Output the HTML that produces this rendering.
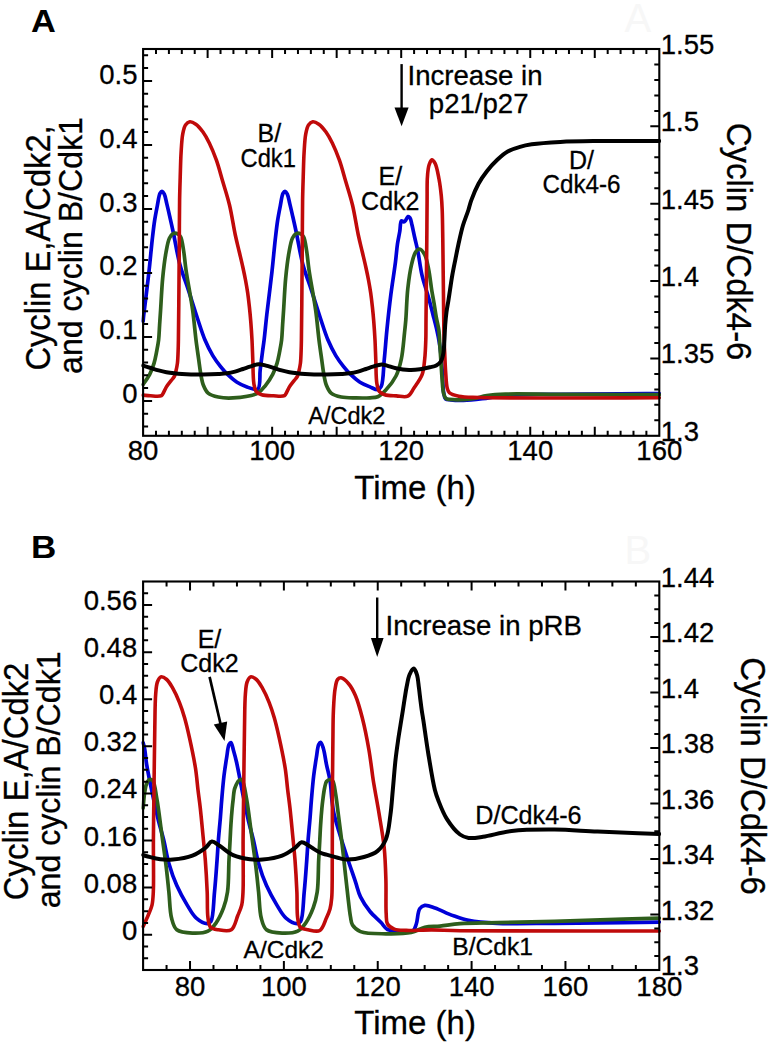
<!DOCTYPE html>
<html><head><meta charset="utf-8"><title>Figure</title>
<style>html,body{margin:0;padding:0;background:#fff;width:768px;height:1043px;overflow:hidden}svg{display:block}text{font-family:"Liberation Sans",sans-serif}</style>
</head><body>
<svg width="768" height="1043" viewBox="0 0 768 1043" font-family="Liberation Sans, sans-serif">
<defs><clipPath id="ca"><rect x="141.30" y="49.00" width="519.80" height="386.80"/></clipPath><clipPath id="cb"><rect x="141.30" y="581.50" width="519.80" height="388.50"/></clipPath></defs>
<rect width="768" height="1043" fill="#fff"/>
<g clip-path="url(#ca)" fill="none" stroke-linejoin="round" stroke-linecap="round">
<path d="M143.10,321.19 C143.39,318.43 143.44,317.75 143.80,314.60 C144.71,306.62 147.43,285.46 148.90,272.30 C150.18,260.81 151.14,249.40 152.20,240.00 C153.02,232.71 153.68,226.62 154.60,220.60 C155.41,215.32 156.36,210.52 157.30,205.80 C158.17,201.45 158.75,195.60 160.00,193.30 C160.59,192.22 161.33,191.27 162.00,191.30 C162.76,191.34 163.64,192.80 164.30,194.10 C165.38,196.22 165.87,200.02 166.70,203.40 C167.69,207.43 168.75,212.11 169.80,216.70 C170.92,221.62 171.91,225.96 173.20,232.00 C175.07,240.75 177.10,254.09 179.80,264.20 C182.28,273.46 185.60,281.51 188.50,290.40 C191.50,299.59 194.58,309.78 197.50,318.50 C200.06,326.16 202.25,333.49 205.00,340.00 C207.41,345.70 210.01,350.95 212.80,355.60 C215.25,359.69 217.98,363.31 220.60,366.60 C222.91,369.50 224.99,371.89 227.60,374.40 C230.41,377.11 233.68,380.09 237.00,382.20 C240.16,384.21 243.53,385.73 247.00,386.90 C250.47,388.07 255.49,390.85 257.80,389.20 C260.89,387.00 259.40,376.07 260.20,369.70 C260.97,363.58 261.79,357.05 262.50,351.70 C263.07,347.38 263.53,344.65 264.10,340.00 C264.93,333.16 265.72,324.14 266.80,314.60 C268.20,302.28 270.43,285.46 271.90,272.30 C273.18,260.81 274.14,249.40 275.20,240.00 C276.02,232.71 276.68,226.62 277.60,220.60 C278.41,215.32 279.36,210.52 280.30,205.80 C281.17,201.45 281.75,195.60 283.00,193.30 C283.59,192.22 284.33,191.27 285.00,191.30 C285.76,191.34 286.64,192.80 287.30,194.10 C288.38,196.22 288.87,200.02 289.70,203.40 C290.69,207.43 291.75,212.11 292.80,216.70 C293.92,221.62 294.91,225.96 296.20,232.00 C298.07,240.75 300.10,254.09 302.80,264.20 C305.28,273.46 308.60,281.51 311.50,290.40 C314.50,299.59 317.58,309.78 320.50,318.50 C323.06,326.16 325.25,333.49 328.00,340.00 C330.41,345.70 333.01,350.95 335.80,355.60 C338.25,359.69 340.98,363.31 343.60,366.60 C345.91,369.50 347.99,371.89 350.60,374.40 C353.41,377.11 356.68,380.09 360.00,382.20 C363.16,384.21 366.84,385.60 370.00,386.90 C372.73,388.03 375.82,390.11 377.80,389.70 C379.28,389.39 380.27,388.35 381.20,386.50 C383.45,382.00 383.36,368.38 384.30,359.10 C385.27,349.55 385.88,340.13 386.90,330.00 C388.02,318.89 389.35,306.52 390.80,295.10 C392.20,284.06 394.21,271.97 395.40,262.60 C396.30,255.47 396.67,249.38 397.50,243.75 C398.18,239.14 399.13,235.24 399.80,231.25 C400.41,227.62 400.16,221.49 401.40,220.80 C402.01,220.46 403.03,221.89 403.75,221.80 C404.46,221.71 405.08,220.98 405.70,220.30 C406.52,219.39 407.15,216.81 408.00,216.60 C408.62,216.45 409.44,217.06 410.00,217.80 C411.00,219.12 411.32,222.26 412.00,225.00 C412.88,228.58 413.75,233.26 414.70,237.50 C415.68,241.92 416.75,245.81 417.80,251.00 C419.21,257.96 420.25,267.67 422.10,275.60 C423.88,283.22 426.69,290.80 428.60,297.70 C430.26,303.72 431.59,309.14 433.00,314.70 C434.35,320.03 435.82,325.55 436.90,330.40 C437.83,334.55 438.53,338.01 439.20,342.00 C439.91,346.20 440.50,350.36 441.00,355.00 C441.57,360.30 441.88,366.18 442.30,372.10 C442.75,378.48 442.77,387.14 443.60,392.00 C444.09,394.89 444.14,397.52 445.50,398.80 C446.68,399.91 448.57,399.64 450.70,399.90 C453.99,400.31 458.76,400.51 463.40,400.40 C469.06,400.26 475.60,399.53 482.20,398.75 C489.59,397.88 496.15,396.08 505.60,395.30 C519.93,394.12 541.42,394.55 560.00,394.30 C579.51,394.04 602.11,393.92 620.00,393.80 C634.48,393.70 646.20,393.67 659.30,393.60" stroke="#0000D8" stroke-width="3.70"/>
<path d="M143.10,384.53 C144.05,383.07 147.88,377.94 149.70,374.40 C151.50,370.90 152.85,367.17 154.00,363.40 C155.16,359.60 155.83,355.61 156.60,351.70 C157.36,347.81 158.11,344.16 158.60,340.00 C159.15,335.32 159.27,330.00 159.60,325.00 C159.93,320.00 160.21,315.94 160.60,310.00 C161.17,301.33 161.73,288.00 162.70,278.00 C163.56,269.14 164.57,260.24 165.90,253.00 C166.94,247.33 167.79,241.39 169.50,238.00 C170.54,235.93 171.74,234.24 173.20,233.60 C174.46,233.05 176.27,233.25 177.50,233.80 C178.75,234.36 179.74,235.41 180.60,237.00 C182.09,239.76 182.66,245.18 183.50,250.00 C184.53,255.93 184.87,262.18 186.00,270.00 C187.62,281.16 190.97,298.05 192.70,310.50 C194.17,321.09 194.90,331.19 196.00,340.00 C196.90,347.18 197.86,353.53 198.70,359.50 C199.41,364.58 199.87,369.14 200.70,373.60 C201.46,377.70 202.02,381.89 203.40,385.30 C204.60,388.27 205.80,391.17 208.10,393.10 C210.61,395.20 214.48,396.18 218.25,397.00 C222.64,397.95 227.47,398.26 233.00,397.90 C240.22,397.43 252.14,396.11 257.80,393.10 C261.54,391.11 263.20,388.26 265.60,385.30 C268.20,382.09 270.77,378.14 272.70,374.40 C274.53,370.83 275.85,367.17 277.00,363.40 C278.16,359.60 278.83,355.61 279.60,351.70 C280.36,347.81 281.11,344.16 281.60,340.00 C282.15,335.32 282.27,330.00 282.60,325.00 C282.93,320.00 283.21,315.94 283.60,310.00 C284.17,301.33 284.73,288.00 285.70,278.00 C286.56,269.14 287.57,260.24 288.90,253.00 C289.94,247.33 290.79,241.39 292.50,238.00 C293.54,235.93 294.74,234.24 296.20,233.60 C297.46,233.05 299.27,233.25 300.50,233.80 C301.75,234.36 302.74,235.41 303.60,237.00 C305.09,239.76 305.66,245.18 306.50,250.00 C307.53,255.93 307.87,262.18 309.00,270.00 C310.62,281.16 313.97,298.05 315.70,310.50 C317.17,321.09 317.90,331.19 319.00,340.00 C319.90,347.18 320.86,353.53 321.70,359.50 C322.41,364.58 322.87,369.14 323.70,373.60 C324.46,377.70 325.02,381.89 326.40,385.30 C327.60,388.27 328.80,391.17 331.10,393.10 C333.61,395.20 337.48,396.18 341.25,397.00 C345.64,397.95 351.15,397.77 356.00,397.90 C360.73,398.03 366.02,398.07 370.00,397.80 C372.98,397.60 375.35,397.87 377.80,396.80 C380.59,395.58 382.99,393.09 385.60,390.30 C389.05,386.62 393.38,381.20 396.00,376.00 C398.62,370.80 399.94,365.41 401.30,359.10 C402.96,351.41 403.70,340.20 404.50,333.00 C405.07,327.92 405.37,325.28 405.80,320.00 C406.47,311.81 406.71,298.42 407.80,288.60 C408.77,279.85 410.08,270.58 411.70,263.90 C412.84,259.19 413.84,254.62 415.60,252.10 C416.72,250.50 418.16,248.89 419.50,249.00 C421.17,249.13 423.30,252.15 424.70,254.70 C426.65,258.24 427.50,263.82 428.60,269.10 C429.91,275.39 430.70,283.86 431.70,290.00 C432.49,294.85 433.25,298.56 434.00,303.00 C434.79,307.65 435.46,312.65 436.30,317.30 C437.10,321.77 438.32,325.89 438.90,330.40 C439.51,335.11 439.48,340.14 439.80,345.00 C440.12,349.84 440.45,354.31 440.80,359.50 C441.21,365.52 441.59,372.98 442.10,379.00 C442.54,384.20 442.61,389.98 443.60,393.50 C444.21,395.67 444.85,397.55 446.00,398.50 C446.91,399.26 447.75,399.20 449.40,399.40 C453.51,399.90 464.65,399.78 471.30,399.00 C476.98,398.34 481.44,396.41 486.90,395.60 C492.82,394.72 497.73,394.39 505.60,394.10 C519.00,393.60 539.16,394.31 560.00,394.40 C588.16,394.52 626.20,394.60 659.30,394.70" stroke="#2E5E1C" stroke-width="3.70"/>
<path d="M143.10,395.11 C145.23,395.31 147.71,395.70 150.40,395.80 C153.71,395.93 159.38,396.75 161.50,395.60 C162.73,394.93 162.89,393.71 163.60,392.50 C164.52,390.93 165.25,388.77 166.40,386.90 C167.69,384.80 169.67,382.44 171.10,380.60 C172.24,379.13 173.46,378.20 174.25,376.70 C175.09,375.11 175.41,373.25 175.90,371.25 C176.48,368.89 177.04,366.29 177.40,363.40 C177.84,359.90 177.93,355.60 178.10,351.70 C178.27,347.80 178.30,345.41 178.40,340.00 C178.62,327.75 178.84,297.98 179.00,280.00 C179.13,265.32 179.20,253.33 179.30,240.00 C179.40,226.67 179.40,211.40 179.60,200.00 C179.75,191.49 179.96,185.37 180.20,177.70 C180.46,169.51 180.61,160.10 181.10,152.30 C181.52,145.61 181.81,138.69 182.80,133.70 C183.49,130.21 184.05,127.05 185.50,125.00 C186.61,123.43 188.18,122.01 189.80,121.80 C191.58,121.57 193.87,122.87 195.80,124.20 C198.24,125.88 200.65,128.88 202.80,131.80 C205.23,135.10 207.30,138.94 209.40,143.20 C211.88,148.23 214.27,154.19 216.40,160.20 C218.71,166.73 220.50,173.81 222.60,181.00 C224.86,188.71 227.46,196.51 229.50,205.00 C231.75,214.40 233.46,226.43 235.30,235.00 C236.69,241.48 238.01,246.51 239.30,252.00 C240.51,257.16 241.74,262.17 242.80,267.00 C243.79,271.48 244.68,275.66 245.50,280.00 C246.31,284.33 247.06,288.58 247.70,293.00 C248.36,297.57 248.89,302.25 249.40,307.00 C249.93,311.91 250.38,316.77 250.80,322.00 C251.26,327.72 251.67,333.84 252.00,340.00 C252.35,346.49 252.50,353.05 252.80,360.00 C253.13,367.58 252.92,378.01 253.90,383.75 C254.47,387.12 254.78,389.75 256.25,391.60 C257.54,393.22 259.45,393.99 261.70,394.70 C264.78,395.67 269.55,395.65 273.40,395.80 C277.14,395.94 282.38,396.75 284.50,395.60 C285.73,394.93 285.89,393.71 286.60,392.50 C287.52,390.93 288.25,388.77 289.40,386.90 C290.69,384.80 292.67,382.44 294.10,380.60 C295.24,379.13 296.46,378.20 297.25,376.70 C298.09,375.11 298.41,373.25 298.90,371.25 C299.48,368.89 300.04,366.29 300.40,363.40 C300.84,359.90 300.93,355.60 301.10,351.70 C301.27,347.80 301.30,345.41 301.40,340.00 C301.62,327.75 301.84,297.98 302.00,280.00 C302.13,265.32 302.20,253.33 302.30,240.00 C302.40,226.67 302.40,211.40 302.60,200.00 C302.75,191.49 302.96,185.37 303.20,177.70 C303.46,169.51 303.61,160.10 304.10,152.30 C304.52,145.61 304.81,138.69 305.80,133.70 C306.49,130.21 307.05,127.05 308.50,125.00 C309.61,123.43 311.18,122.01 312.80,121.80 C314.58,121.57 316.87,122.87 318.80,124.20 C321.24,125.88 323.65,128.88 325.80,131.80 C328.23,135.10 330.30,138.94 332.40,143.20 C334.88,148.23 337.27,154.19 339.40,160.20 C341.71,166.73 343.50,173.81 345.60,181.00 C347.86,188.71 350.46,196.51 352.50,205.00 C354.75,214.40 356.46,226.43 358.30,235.00 C359.69,241.48 361.01,246.51 362.30,252.00 C363.51,257.16 364.74,262.17 365.80,267.00 C366.79,271.48 367.68,275.66 368.50,280.00 C369.31,284.33 370.06,288.58 370.70,293.00 C371.36,297.57 371.89,302.25 372.40,307.00 C372.93,311.91 373.38,316.77 373.80,322.00 C374.26,327.72 374.67,333.84 375.00,340.00 C375.35,346.49 375.50,353.05 375.80,360.00 C376.13,367.58 375.84,378.02 376.90,383.75 C377.53,387.13 378.01,389.74 379.50,391.60 C380.78,393.19 382.52,393.98 384.70,394.70 C387.74,395.71 392.52,395.65 396.40,395.90 C400.22,396.15 404.83,397.63 407.80,396.20 C410.62,394.84 411.88,391.12 414.00,388.00 C416.61,384.16 420.32,379.50 422.10,374.70 C423.90,369.87 424.09,364.58 424.70,359.10 C425.37,353.07 425.58,346.44 425.80,340.00 C426.02,333.41 425.92,327.81 426.00,320.00 C426.11,308.95 426.27,293.33 426.40,280.00 C426.53,266.67 426.68,253.33 426.80,240.00 C426.92,226.67 427.00,211.20 427.10,200.00 C427.17,191.88 427.02,184.71 427.30,179.00 C427.50,175.05 427.78,171.63 428.20,169.00 C428.48,167.26 428.66,166.14 429.20,164.70 C429.81,163.08 430.78,159.93 431.80,159.80 C432.76,159.68 434.14,161.61 435.10,163.40 C436.85,166.65 437.97,173.66 439.00,179.00 C440.06,184.52 440.76,190.60 441.30,196.00 C441.79,200.88 441.97,204.45 442.20,210.00 C442.54,218.11 442.62,228.73 442.80,240.00 C443.03,254.55 443.18,273.33 443.40,290.00 C443.62,306.67 443.76,328.74 444.10,340.00 C444.27,345.74 444.47,348.22 444.70,353.00 C444.98,358.87 445.24,366.47 445.70,372.60 C446.10,378.05 446.22,384.38 447.20,388.00 C447.77,390.12 448.02,391.52 449.40,392.80 C451.30,394.57 455.00,395.50 458.80,396.30 C464.19,397.44 470.01,397.21 479.00,397.50 C496.98,398.09 531.63,397.94 560.00,398.00 C591.42,398.07 626.20,397.87 659.30,397.80" stroke="#C00A0A" stroke-width="3.60"/>
<path d="M143.10,365.63 C145.67,366.42 148.23,367.21 150.80,368.00 C153.39,368.80 155.99,369.70 158.60,370.40 C161.19,371.10 163.79,371.72 166.40,372.20 C169.00,372.68 171.63,373.00 174.25,373.30 C176.86,373.60 179.40,373.82 182.10,374.00 C184.97,374.19 187.81,374.32 191.00,374.40 C194.70,374.50 198.76,374.55 203.00,374.50 C207.78,374.44 213.87,374.25 218.25,374.00 C221.57,373.81 224.16,373.71 227.00,373.30 C229.74,372.90 232.35,372.31 235.00,371.60 C237.69,370.88 240.43,369.86 243.00,369.00 C245.41,368.19 247.53,367.37 250.00,366.60 C252.71,365.76 255.83,364.32 258.60,364.20 C261.15,364.09 263.52,364.99 266.00,365.60 C268.58,366.24 271.20,367.20 273.80,368.00 C276.40,368.80 278.99,369.70 281.60,370.40 C284.19,371.10 286.79,371.72 289.40,372.20 C292.00,372.68 294.63,373.00 297.25,373.30 C299.86,373.60 302.40,373.82 305.10,374.00 C307.97,374.19 310.81,374.32 314.00,374.40 C317.70,374.50 321.76,374.55 326.00,374.50 C330.78,374.44 336.87,374.25 341.25,374.00 C344.57,373.81 347.16,373.71 350.00,373.30 C352.74,372.90 355.35,372.31 358.00,371.60 C360.69,370.88 363.43,369.86 366.00,369.00 C368.41,368.19 370.53,367.34 373.00,366.60 C375.70,365.79 379.06,364.44 381.60,364.40 C383.60,364.37 384.98,365.08 387.00,365.60 C389.63,366.27 392.69,367.51 396.00,368.20 C399.93,369.02 404.93,369.75 409.10,369.90 C412.89,370.04 416.48,369.75 420.00,369.30 C423.37,368.87 426.88,368.02 429.80,367.30 C432.20,366.70 434.43,366.42 436.30,365.40 C438.06,364.44 439.66,363.26 440.80,361.50 C442.20,359.35 442.80,356.17 443.40,353.00 C444.13,349.16 444.11,344.49 444.40,340.00 C444.71,335.18 444.83,329.82 445.20,325.00 C445.54,320.51 445.94,316.24 446.50,312.00 C447.04,307.91 447.90,303.82 448.50,300.00 C449.05,296.52 449.44,293.66 450.00,290.00 C450.68,285.55 451.43,280.17 452.30,275.20 C453.19,270.11 454.28,264.92 455.30,259.80 C456.32,254.69 457.21,249.88 458.40,244.50 C459.74,238.45 461.23,231.29 463.00,225.30 C464.61,219.87 466.93,214.52 468.40,210.00 C469.55,206.45 469.94,203.99 471.25,200.40 C473.01,195.56 475.74,188.79 478.50,183.75 C481.01,179.16 483.79,175.22 486.90,171.25 C490.05,167.23 493.69,163.18 497.30,159.80 C500.65,156.66 503.91,153.67 507.70,151.50 C511.48,149.34 515.90,148.01 520.00,146.80 C523.90,145.64 526.92,145.01 531.70,144.30 C539.11,143.20 550.13,142.45 560.30,141.90 C571.88,141.27 583.53,141.18 597.50,141.00 C615.50,140.77 638.70,140.93 659.30,140.90" stroke="#000" stroke-width="4.00"/>
</g>
<g clip-path="url(#cb)" fill="none" stroke-linejoin="round" stroke-linecap="round">
<path d="M143.10,742.80 C143.60,744.70 144.13,746.08 144.60,748.50 C145.41,752.62 145.79,759.21 146.80,765.40 C148.05,773.03 149.94,781.97 151.80,790.80 C153.84,800.49 156.40,812.30 158.60,821.20 C160.34,828.24 162.07,833.37 163.70,840.00 C165.51,847.35 166.70,855.77 168.90,863.40 C171.08,870.97 173.69,878.55 176.80,885.60 C179.82,892.43 183.67,899.35 187.20,905.10 C190.19,909.97 192.66,914.96 196.30,918.10 C199.50,920.86 204.65,923.69 207.30,923.60 C208.84,923.55 209.90,923.01 210.90,921.50 C213.55,917.47 213.48,902.16 214.50,892.10 C215.57,881.52 216.41,868.98 217.10,859.50 C217.64,852.17 217.88,846.74 218.40,840.00 C218.96,832.72 219.82,824.36 220.40,817.30 C220.90,811.14 221.17,806.26 221.70,800.00 C222.33,792.56 223.09,783.14 224.00,775.60 C224.79,769.05 225.79,762.85 226.70,757.30 C227.46,752.65 227.82,746.84 229.00,744.50 C229.54,743.42 230.32,742.37 230.90,742.50 C231.92,742.73 232.64,747.58 233.50,750.50 C234.52,753.97 235.39,757.13 236.50,762.00 C238.40,770.30 241.06,785.45 243.20,795.90 C245.04,804.90 246.68,813.23 248.50,821.00 C250.09,827.79 251.80,833.32 253.40,840.00 C255.17,847.38 256.40,855.77 258.60,863.40 C260.78,870.97 263.39,878.55 266.50,885.60 C269.52,892.43 273.37,899.35 276.90,905.10 C279.89,909.97 282.36,914.96 286.00,918.10 C289.20,920.86 294.35,923.69 297.00,923.60 C298.54,923.55 299.60,923.01 300.60,921.50 C303.25,917.47 303.18,902.16 304.20,892.10 C305.27,881.52 306.11,868.98 306.80,859.50 C307.34,852.17 307.58,846.74 308.10,840.00 C308.66,832.72 309.52,824.36 310.10,817.30 C310.60,811.14 310.87,806.26 311.40,800.00 C312.03,792.56 312.79,783.14 313.70,775.60 C314.49,769.05 315.49,762.85 316.40,757.30 C317.16,752.65 317.54,746.92 318.70,744.50 C319.25,743.35 319.98,742.21 320.60,742.30 C321.53,742.43 322.49,745.68 323.30,748.20 C324.60,752.24 325.37,759.14 326.50,764.60 C327.63,770.07 329.21,775.30 330.10,781.00 C331.05,787.07 331.21,794.30 331.90,800.00 C332.47,804.69 332.83,808.19 333.80,812.80 C334.97,818.37 336.87,824.47 338.80,831.00 C341.07,838.69 343.96,847.63 346.70,856.00 C349.49,864.50 352.89,874.16 355.40,881.60 C357.34,887.35 358.14,892.00 360.50,896.90 C362.95,901.99 366.48,907.16 370.00,911.50 C373.29,915.56 377.65,919.04 380.80,922.30 C383.33,924.92 384.58,928.05 387.50,929.50 C390.80,931.14 395.79,930.58 400.00,930.80 C404.26,931.02 410.20,932.47 412.90,930.80 C414.97,929.52 415.31,926.79 416.30,924.00 C417.72,920.01 417.60,911.86 419.70,908.80 C421.02,906.88 422.71,905.77 424.80,905.40 C427.53,904.92 431.42,906.68 435.00,907.90 C439.25,909.35 444.92,912.43 448.50,913.90 C450.82,914.85 451.92,915.29 454.30,916.10 C457.99,917.35 462.95,919.28 468.60,920.40 C476.46,921.96 486.08,922.73 497.30,923.30 C513.11,924.10 532.64,923.43 554.60,923.30 C584.28,923.13 624.40,922.50 659.30,922.10" stroke="#0000D8" stroke-width="3.70"/>
<path d="M143.10,808.00 C143.63,802.77 144.00,796.69 144.70,792.30 C145.21,789.08 145.53,786.26 146.50,784.00 C147.27,782.21 148.31,780.01 149.50,779.60 C150.45,779.27 151.78,779.60 152.70,780.60 C154.91,782.99 155.60,792.10 156.90,799.20 C158.61,808.56 159.98,820.97 161.50,832.00 C163.05,843.23 164.82,855.41 166.10,866.00 C167.22,875.27 167.99,883.41 168.90,892.10 C169.81,900.77 169.72,911.26 171.55,918.10 C172.83,922.89 173.67,927.28 176.80,929.80 C180.29,932.61 187.18,932.89 192.40,933.10 C197.58,933.31 203.94,933.09 208.00,931.10 C211.40,929.43 213.44,926.58 215.80,923.30 C218.77,919.18 221.64,913.01 223.60,907.70 C225.49,902.60 226.59,898.28 227.50,892.10 C228.78,883.36 228.52,869.44 229.00,860.00 C229.38,852.55 229.76,846.19 230.10,840.00 C230.39,834.64 230.56,830.14 230.90,825.00 C231.26,819.56 231.77,812.80 232.20,808.20 C232.50,804.98 232.71,802.99 233.10,800.00 C233.57,796.38 233.58,791.53 234.90,788.00 C236.10,784.78 238.74,779.92 240.30,779.50 C241.06,779.30 241.75,779.76 242.40,780.60 C244.23,782.99 245.30,792.10 246.60,799.20 C248.31,808.56 249.68,820.97 251.20,832.00 C252.75,843.23 254.52,855.41 255.80,866.00 C256.92,875.27 257.69,883.41 258.60,892.10 C259.51,900.77 259.42,911.26 261.25,918.10 C262.53,922.89 263.37,927.28 266.50,929.80 C269.99,932.61 276.88,932.89 282.10,933.10 C287.28,933.31 293.64,933.09 297.70,931.10 C301.10,929.43 303.14,926.58 305.50,923.30 C308.47,919.18 311.34,913.01 313.30,907.70 C315.19,902.60 316.29,898.28 317.20,892.10 C318.48,883.36 318.22,869.44 318.70,860.00 C319.08,852.55 319.46,846.19 319.80,840.00 C320.09,834.64 320.26,830.14 320.60,825.00 C320.96,819.56 321.47,812.80 321.90,808.20 C322.20,804.98 322.41,802.99 322.80,800.00 C323.27,796.38 323.86,791.37 324.60,788.00 C325.15,785.48 325.37,782.93 326.50,781.50 C327.37,780.40 328.89,779.52 330.00,779.50 C330.98,779.49 332.02,779.97 332.80,781.00 C334.38,783.09 334.76,788.98 335.60,793.80 C336.68,799.96 337.41,807.32 338.40,815.00 C339.58,824.13 341.02,835.00 342.20,845.00 C343.38,855.00 344.44,865.46 345.50,875.00 C346.47,883.71 347.39,892.47 348.30,900.00 C349.05,906.21 349.63,912.41 350.50,917.00 C351.10,920.18 351.03,922.67 352.50,925.00 C354.15,927.62 356.77,930.07 360.50,931.60 C366.35,933.99 377.44,933.65 385.90,933.80 C394.34,933.95 404.16,933.96 411.20,932.50 C416.53,931.39 420.06,928.47 424.80,927.40 C429.65,926.30 434.59,926.66 440.00,926.10 C446.22,925.46 452.29,924.26 460.00,923.70 C470.50,922.93 483.54,923.05 497.30,922.70 C514.36,922.26 532.64,921.90 554.60,921.30 C584.28,920.48 624.40,919.17 659.30,918.10" stroke="#2E5E1C" stroke-width="3.70"/>
<path d="M143.10,926.50 C144.28,923.90 146.59,919.14 148.10,915.50 C149.55,912.01 151.13,908.82 152.00,905.10 C152.94,901.07 153.01,897.89 153.30,892.10 C153.89,880.54 153.28,857.19 153.40,840.00 C153.52,823.16 153.78,807.58 154.00,790.00 C154.24,770.37 154.45,745.32 154.80,727.70 C155.06,714.72 154.99,702.28 155.70,693.90 C156.12,688.91 156.24,685.04 157.40,682.00 C158.23,679.83 159.28,677.34 160.80,676.90 C162.36,676.45 164.91,678.04 166.70,679.50 C168.95,681.35 170.70,684.63 172.60,687.90 C174.97,691.97 177.42,697.38 179.40,702.30 C181.39,707.24 182.91,712.03 184.50,717.50 C186.32,723.77 187.84,730.40 189.50,737.90 C191.51,747.01 194.05,758.99 195.50,768.30 C196.72,776.12 197.16,783.09 198.00,790.00 C198.77,796.34 199.55,801.51 200.30,808.20 C201.22,816.40 202.14,826.73 203.00,835.60 C203.81,843.97 204.63,851.30 205.30,860.00 C206.06,869.96 206.74,881.96 207.20,892.10 C207.61,901.22 207.00,911.70 208.00,918.10 C208.60,921.96 208.74,925.26 210.60,927.20 C212.34,929.01 215.43,929.32 218.40,929.80 C222.12,930.40 228.11,931.85 231.30,929.80 C234.82,927.53 235.97,919.92 237.80,915.50 C239.34,911.79 240.83,908.82 241.70,905.10 C242.64,901.07 242.71,897.89 243.00,892.10 C243.59,880.54 242.98,857.19 243.10,840.00 C243.22,823.16 243.48,807.58 243.70,790.00 C243.94,770.37 244.15,745.32 244.50,727.70 C244.76,714.72 244.69,702.28 245.40,693.90 C245.82,688.91 245.94,685.04 247.10,682.00 C247.93,679.83 248.98,677.34 250.50,676.90 C252.06,676.45 254.61,678.04 256.40,679.50 C258.65,681.35 260.40,684.63 262.30,687.90 C264.67,691.97 267.12,697.38 269.10,702.30 C271.09,707.24 272.61,712.03 274.20,717.50 C276.02,723.77 277.54,730.40 279.20,737.90 C281.21,747.01 283.75,758.99 285.20,768.30 C286.42,776.12 286.86,783.09 287.70,790.00 C288.47,796.34 289.25,801.51 290.00,808.20 C290.92,816.40 291.84,826.73 292.70,835.60 C293.51,843.97 294.33,851.30 295.00,860.00 C295.76,869.96 296.44,881.96 296.90,892.10 C297.31,901.22 296.70,911.70 297.70,918.10 C298.30,921.96 298.44,925.26 300.30,927.20 C302.04,929.01 305.20,929.24 308.10,929.80 C311.57,930.47 316.80,932.18 319.80,930.50 C323.08,928.66 324.62,921.96 326.40,918.10 C327.89,914.88 329.12,912.23 330.00,909.00 C330.93,905.56 331.33,902.13 331.70,898.00 C332.18,892.75 332.08,888.29 332.20,880.00 C332.48,861.46 332.24,815.62 332.40,790.00 C332.52,770.90 332.70,754.44 332.90,740.00 C333.05,728.97 332.97,719.84 333.40,710.80 C333.77,702.94 334.11,694.54 335.10,688.80 C335.75,685.01 336.17,681.25 337.60,679.50 C338.50,678.40 339.69,677.67 341.00,677.80 C343.08,678.01 346.35,681.12 348.60,683.70 C351.27,686.77 353.36,690.82 355.40,695.50 C358.05,701.58 360.11,709.42 362.20,717.50 C364.69,727.16 367.05,739.10 368.90,749.70 C370.69,759.92 372.05,772.64 373.20,780.00 C373.86,784.24 374.20,785.95 374.90,790.00 C375.98,796.26 377.69,805.24 379.10,813.90 C380.78,824.18 383.07,836.53 384.20,847.70 C385.30,858.56 385.57,869.10 385.90,880.00 C386.24,891.16 385.65,905.93 386.20,913.90 C386.50,918.27 386.00,921.42 387.50,924.00 C388.87,926.36 391.54,928.01 394.30,929.10 C397.57,930.39 401.48,930.19 406.20,930.40 C413.07,930.71 422.90,929.85 431.60,929.90 C440.80,929.96 446.25,930.58 460.00,930.80 C496.41,931.40 592.87,930.93 659.30,931.00" stroke="#C00A0A" stroke-width="3.60"/>
<path d="M143.10,854.89 C143.27,855.01 143.21,855.01 143.40,855.10 C144.72,855.69 155.04,858.61 160.30,859.30 C164.77,859.88 168.27,859.92 172.90,859.50 C178.72,858.97 186.72,857.80 192.40,855.60 C197.36,853.68 201.92,850.45 205.40,847.80 C208.08,845.76 209.52,841.91 211.90,841.60 C214.26,841.29 216.73,844.03 219.60,845.80 C223.53,848.22 228.12,852.86 233.10,855.10 C238.23,857.41 244.74,858.61 250.00,859.30 C254.47,859.88 257.97,859.92 262.60,859.50 C268.42,858.97 276.42,857.80 282.10,855.60 C287.06,853.68 291.59,850.31 295.10,847.80 C297.73,845.92 299.33,842.62 301.60,842.30 C303.68,842.00 306.15,844.13 308.10,845.20 C309.84,846.15 310.99,847.19 312.80,848.30 C315.16,849.74 318.58,851.90 321.10,853.00 C323.04,853.85 324.28,854.05 326.50,854.70 C330.00,855.73 336.33,857.56 340.10,858.40 C342.74,858.99 344.12,859.57 346.90,859.60 C351.29,859.65 358.65,858.52 363.90,857.00 C368.76,855.59 373.73,854.08 377.40,851.10 C381.06,848.14 383.80,844.15 385.90,839.20 C388.63,832.78 389.25,823.16 390.40,815.00 C391.56,806.76 391.99,798.71 392.80,790.00 C393.69,780.46 394.52,768.85 395.50,760.00 C396.28,752.94 397.13,747.06 398.00,741.00 C398.80,735.43 399.68,730.17 400.50,725.00 C401.28,720.12 402.09,715.32 402.80,710.80 C403.45,706.69 403.97,702.95 404.60,699.00 C405.24,695.01 405.78,691.03 406.60,687.00 C407.44,682.86 408.11,677.78 409.60,674.50 C410.72,672.04 412.56,668.52 413.80,668.60 C414.98,668.68 416.10,672.06 416.90,674.50 C418.03,677.93 418.31,683.29 418.90,687.60 C419.47,691.79 419.91,696.09 420.40,700.00 C420.84,703.51 421.22,706.67 421.70,710.00 C422.18,713.34 422.64,715.70 423.30,720.00 C424.51,727.82 426.34,741.78 428.20,753.10 C430.17,765.08 432.75,781.55 434.90,790.00 C436.06,794.55 436.77,796.41 438.30,800.30 C440.39,805.64 443.18,813.20 446.80,818.90 C450.42,824.60 455.68,831.40 460.00,834.50 C462.90,836.58 465.30,837.40 468.60,837.90 C472.72,838.52 477.41,837.58 483.00,836.80 C490.94,835.70 501.04,832.23 511.60,831.00 C524.42,829.50 540.28,829.50 554.60,829.60 C568.91,829.70 581.90,830.95 597.50,831.60 C616.22,832.38 638.70,833.13 659.30,833.90" stroke="#000" stroke-width="4.00"/>
</g>
<rect x="143.10" y="49.00" width="516.20" height="386.80" fill="none" stroke="#000" stroke-width="2.1"/>
<path d="M156.00,49.00v5.00M156.00,435.80v-5.00M168.91,49.00v5.00M168.91,435.80v-5.00M181.81,49.00v5.00M181.81,435.80v-5.00M194.72,49.00v5.00M194.72,435.80v-5.00M207.62,49.00v9.00M207.62,435.80v-9.00M220.53,49.00v5.00M220.53,435.80v-5.00M233.43,49.00v5.00M233.43,435.80v-5.00M246.34,49.00v5.00M246.34,435.80v-5.00M259.25,49.00v5.00M259.25,435.80v-5.00M272.15,49.00v9.00M272.15,435.80v-9.00M285.05,49.00v5.00M285.05,435.80v-5.00M297.96,49.00v5.00M297.96,435.80v-5.00M310.86,49.00v5.00M310.86,435.80v-5.00M323.77,49.00v5.00M323.77,435.80v-5.00M336.67,49.00v9.00M336.67,435.80v-9.00M349.58,49.00v5.00M349.58,435.80v-5.00M362.48,49.00v5.00M362.48,435.80v-5.00M375.39,49.00v5.00M375.39,435.80v-5.00M388.29,49.00v5.00M388.29,435.80v-5.00M401.20,49.00v9.00M401.20,435.80v-9.00M414.10,49.00v5.00M414.10,435.80v-5.00M427.01,49.00v5.00M427.01,435.80v-5.00M439.91,49.00v5.00M439.91,435.80v-5.00M452.82,49.00v5.00M452.82,435.80v-5.00M465.72,49.00v9.00M465.72,435.80v-9.00M478.63,49.00v5.00M478.63,435.80v-5.00M491.53,49.00v5.00M491.53,435.80v-5.00M504.44,49.00v5.00M504.44,435.80v-5.00M517.34,49.00v5.00M517.34,435.80v-5.00M530.25,49.00v9.00M530.25,435.80v-9.00M543.15,49.00v5.00M543.15,435.80v-5.00M556.06,49.00v5.00M556.06,435.80v-5.00M568.96,49.00v5.00M568.96,435.80v-5.00M581.87,49.00v5.00M581.87,435.80v-5.00M594.77,49.00v9.00M594.77,435.80v-9.00M607.68,49.00v5.00M607.68,435.80v-5.00M620.58,49.00v5.00M620.58,435.80v-5.00M633.49,49.00v5.00M633.49,435.80v-5.00M646.39,49.00v5.00M646.39,435.80v-5.00M143.10,426.50h5.00M143.10,413.70h5.00M143.10,400.90h9.00M143.10,388.10h5.00M143.10,375.30h5.00M143.10,362.50h5.00M143.10,349.70h5.00M143.10,336.90h9.00M143.10,324.10h5.00M143.10,311.30h5.00M143.10,298.50h5.00M143.10,285.70h5.00M143.10,272.90h9.00M143.10,260.10h5.00M143.10,247.30h5.00M143.10,234.50h5.00M143.10,221.70h5.00M143.10,208.90h9.00M143.10,196.10h5.00M143.10,183.30h5.00M143.10,170.50h5.00M143.10,157.70h5.00M143.10,144.90h9.00M143.10,132.10h5.00M143.10,119.30h5.00M143.10,106.50h5.00M143.10,93.70h5.00M143.10,80.90h9.00M143.10,68.10h5.00M143.10,55.30h5.00M659.30,420.33h-5.00M659.30,404.86h-5.00M659.30,389.38h-5.00M659.30,373.91h-5.00M659.30,358.44h-9.00M659.30,342.97h-5.00M659.30,327.50h-5.00M659.30,312.02h-5.00M659.30,296.55h-5.00M659.30,281.08h-9.00M659.30,265.61h-5.00M659.30,250.14h-5.00M659.30,234.66h-5.00M659.30,219.19h-5.00M659.30,203.72h-9.00M659.30,188.25h-5.00M659.30,172.78h-5.00M659.30,157.30h-5.00M659.30,141.83h-5.00M659.30,126.36h-9.00M659.30,110.89h-5.00M659.30,95.42h-5.00M659.30,79.94h-5.00M659.30,64.47h-5.00" stroke="#000" stroke-width="2" fill="none"/>
<rect x="143.10" y="581.50" width="516.20" height="388.50" fill="none" stroke="#000" stroke-width="2.1"/>
<path d="M166.56,581.50v5.00M166.56,970.00v-5.00M190.03,581.50v9.00M190.03,970.00v-9.00M213.49,581.50v5.00M213.49,970.00v-5.00M236.95,581.50v5.00M236.95,970.00v-5.00M260.42,581.50v5.00M260.42,970.00v-5.00M283.88,581.50v9.00M283.88,970.00v-9.00M307.35,581.50v5.00M307.35,970.00v-5.00M330.81,581.50v5.00M330.81,970.00v-5.00M354.27,581.50v5.00M354.27,970.00v-5.00M377.74,581.50v9.00M377.74,970.00v-9.00M401.20,581.50v5.00M401.20,970.00v-5.00M424.66,581.50v5.00M424.66,970.00v-5.00M448.13,581.50v5.00M448.13,970.00v-5.00M471.59,581.50v9.00M471.59,970.00v-9.00M495.05,581.50v5.00M495.05,970.00v-5.00M518.52,581.50v5.00M518.52,970.00v-5.00M541.98,581.50v5.00M541.98,970.00v-5.00M565.45,581.50v9.00M565.45,970.00v-9.00M588.91,581.50v5.00M588.91,970.00v-5.00M612.37,581.50v5.00M612.37,970.00v-5.00M635.84,581.50v5.00M635.84,970.00v-5.00M143.10,958.23h5.00M143.10,946.45h5.00M143.10,934.68h9.00M143.10,922.91h5.00M143.10,911.14h5.00M143.10,899.36h5.00M143.10,887.59h9.00M143.10,875.82h5.00M143.10,864.05h5.00M143.10,852.27h5.00M143.10,840.50h9.00M143.10,828.73h5.00M143.10,816.95h5.00M143.10,805.18h5.00M143.10,793.41h9.00M143.10,781.64h5.00M143.10,769.86h5.00M143.10,758.09h5.00M143.10,746.32h9.00M143.10,734.55h5.00M143.10,722.77h5.00M143.10,711.00h5.00M143.10,699.23h9.00M143.10,687.45h5.00M143.10,675.68h5.00M143.10,663.91h5.00M143.10,652.14h9.00M143.10,640.36h5.00M143.10,628.59h5.00M143.10,616.82h5.00M143.10,605.05h9.00M143.10,593.27h5.00M659.30,956.12h-5.00M659.30,942.25h-5.00M659.30,928.38h-5.00M659.30,914.50h-9.00M659.30,900.62h-5.00M659.30,886.75h-5.00M659.30,872.88h-5.00M659.30,859.00h-9.00M659.30,845.12h-5.00M659.30,831.25h-5.00M659.30,817.38h-5.00M659.30,803.50h-9.00M659.30,789.62h-5.00M659.30,775.75h-5.00M659.30,761.88h-5.00M659.30,748.00h-9.00M659.30,734.12h-5.00M659.30,720.25h-5.00M659.30,706.38h-5.00M659.30,692.50h-9.00M659.30,678.62h-5.00M659.30,664.75h-5.00M659.30,650.88h-5.00M659.30,637.00h-9.00M659.30,623.12h-5.00M659.30,609.25h-5.00M659.30,595.38h-5.00" stroke="#000" stroke-width="2" fill="none"/>
<line x1="401.6" y1="64.1" x2="401.6" y2="110" stroke="#000" stroke-width="2.4"/>
<polygon points="394.5,107.4 408.6,107.4 401.6,126.2" fill="#000"/>
<line x1="377.2" y1="597.5" x2="377.2" y2="641" stroke="#000" stroke-width="2.4"/>
<polygon points="370.9,638 383.6,638 377.2,656.9" fill="#000"/>
<line x1="209.6" y1="676.9" x2="220.8" y2="725" stroke="#000" stroke-width="2.7"/>
<polygon points="213.8,724.4 227.2,721.4 224.5,740.9" fill="#000"/>
<text transform="translate(30.90,32.00) scale(1.110,1.000)" font-size="31.00" text-anchor="start" font-weight="bold" fill="#000">A</text>
<text transform="translate(624.50,31.50)" font-size="40.00" text-anchor="start" font-weight="normal" fill="#f7f7f7">A</text>
<text transform="translate(137.50,83.70)" font-size="27.50" text-anchor="end" font-weight="normal" fill="#000" stroke="#000" stroke-width="0.30">0.5</text>
<text transform="translate(137.50,147.60)" font-size="27.50" text-anchor="end" font-weight="normal" fill="#000" stroke="#000" stroke-width="0.30">0.4</text>
<text transform="translate(137.50,211.50)" font-size="27.50" text-anchor="end" font-weight="normal" fill="#000" stroke="#000" stroke-width="0.30">0.3</text>
<text transform="translate(137.50,275.40)" font-size="27.50" text-anchor="end" font-weight="normal" fill="#000" stroke="#000" stroke-width="0.30">0.2</text>
<text transform="translate(137.50,339.30)" font-size="27.50" text-anchor="end" font-weight="normal" fill="#000" stroke="#000" stroke-width="0.30">0.1</text>
<text transform="translate(137.50,403.20)" font-size="27.50" text-anchor="end" font-weight="normal" fill="#000" stroke="#000" stroke-width="0.30">0</text>
<text transform="translate(660.80,53.90)" font-size="27.50" text-anchor="start" font-weight="normal" fill="#000" stroke="#000" stroke-width="0.30">1.55</text>
<text transform="translate(660.80,131.27)" font-size="27.50" text-anchor="start" font-weight="normal" fill="#000" stroke="#000" stroke-width="0.30">1.5</text>
<text transform="translate(660.80,208.64)" font-size="27.50" text-anchor="start" font-weight="normal" fill="#000" stroke="#000" stroke-width="0.30">1.45</text>
<text transform="translate(660.80,286.01)" font-size="27.50" text-anchor="start" font-weight="normal" fill="#000" stroke="#000" stroke-width="0.30">1.4</text>
<text transform="translate(660.80,363.38)" font-size="27.50" text-anchor="start" font-weight="normal" fill="#000" stroke="#000" stroke-width="0.30">1.35</text>
<text transform="translate(660.80,440.75)" font-size="27.50" text-anchor="start" font-weight="normal" fill="#000" stroke="#000" stroke-width="0.30">1.3</text>
<text transform="translate(143.10,460.20)" font-size="27.50" text-anchor="middle" font-weight="normal" fill="#000" stroke="#000" stroke-width="0.30">80</text>
<text transform="translate(272.15,460.20)" font-size="27.50" text-anchor="middle" font-weight="normal" fill="#000" stroke="#000" stroke-width="0.30">100</text>
<text transform="translate(401.20,460.20)" font-size="27.50" text-anchor="middle" font-weight="normal" fill="#000" stroke="#000" stroke-width="0.30">120</text>
<text transform="translate(530.25,460.20)" font-size="27.50" text-anchor="middle" font-weight="normal" fill="#000" stroke="#000" stroke-width="0.30">140</text>
<text transform="translate(659.30,460.20)" font-size="27.50" text-anchor="middle" font-weight="normal" fill="#000" stroke="#000" stroke-width="0.30">160</text>
<text transform="translate(354.30,498.70)" font-size="33.00" text-anchor="start" font-weight="normal" fill="#000" stroke="#000" stroke-width="0.30">Time (h)</text>
<text transform="translate(49.9,370.6) rotate(-90) scale(1,1.06)" font-size="32.7" stroke="#000" stroke-width="0.3">Cyclin E,A/Cdk2,</text>
<text transform="translate(82.4,373.9) rotate(-90) scale(1,1.06)" font-size="32.1" stroke="#000" stroke-width="0.3">and cyclin B/Cdk1</text>
<text transform="translate(727.3,122.8) rotate(90) scale(1,1.06)" font-size="32.9" stroke="#000" stroke-width="0.3">Cyclin D/Cdk4-6</text>
<text transform="translate(269.30,142.20)" font-size="25.00" text-anchor="middle" font-weight="normal" fill="#000" stroke="#000" stroke-width="0.30">B/</text>
<text transform="translate(268.20,167.30) scale(0.950,1.000)" font-size="25.00" text-anchor="middle" font-weight="normal" fill="#000" stroke="#000" stroke-width="0.30">Cdk1</text>
<text transform="translate(390.30,185.20)" font-size="25.00" text-anchor="middle" font-weight="normal" fill="#000" stroke="#000" stroke-width="0.30">E/</text>
<text transform="translate(390.30,210.30)" font-size="25.00" text-anchor="middle" font-weight="normal" fill="#000" stroke="#000" stroke-width="0.30">Cdk2</text>
<text transform="translate(581.50,168.80)" font-size="25.00" text-anchor="middle" font-weight="normal" fill="#000" stroke="#000" stroke-width="0.30">D/</text>
<text transform="translate(581.50,192.80) scale(0.970,1.000)" font-size="25.00" text-anchor="middle" font-weight="normal" fill="#000" stroke="#000" stroke-width="0.30">Cdk4-6</text>
<text transform="translate(308.30,423.85)" font-size="23.50" text-anchor="start" font-weight="normal" fill="#000" stroke="#000" stroke-width="0.30">A/Cdk2</text>
<text transform="translate(407.50,84.50)" font-size="27.60" text-anchor="start" font-weight="normal" fill="#000" stroke="#000" stroke-width="0.30">Increase in</text>
<text transform="translate(428.80,112.90)" font-size="27.60" text-anchor="start" font-weight="normal" fill="#000" stroke="#000" stroke-width="0.30">p21/p27</text>
<text transform="translate(31.10,557.80) scale(1.130,1.000)" font-size="31.00" text-anchor="start" font-weight="bold" fill="#000">B</text>
<text transform="translate(624.50,564.00)" font-size="40.00" text-anchor="start" font-weight="normal" fill="#f7f7f7">B</text>
<text transform="translate(137.20,610.10)" font-size="27.50" text-anchor="end" font-weight="normal" fill="#000" stroke="#000" stroke-width="0.30">0.56</text>
<text transform="translate(137.20,657.18)" font-size="27.50" text-anchor="end" font-weight="normal" fill="#000" stroke="#000" stroke-width="0.30">0.48</text>
<text transform="translate(137.20,704.26)" font-size="27.50" text-anchor="end" font-weight="normal" fill="#000" stroke="#000" stroke-width="0.30">0.4</text>
<text transform="translate(137.20,751.34)" font-size="27.50" text-anchor="end" font-weight="normal" fill="#000" stroke="#000" stroke-width="0.30">0.32</text>
<text transform="translate(137.20,798.42)" font-size="27.50" text-anchor="end" font-weight="normal" fill="#000" stroke="#000" stroke-width="0.30">0.24</text>
<text transform="translate(137.20,845.50)" font-size="27.50" text-anchor="end" font-weight="normal" fill="#000" stroke="#000" stroke-width="0.30">0.16</text>
<text transform="translate(137.20,892.58)" font-size="27.50" text-anchor="end" font-weight="normal" fill="#000" stroke="#000" stroke-width="0.30">0.08</text>
<text transform="translate(137.20,939.66)" font-size="27.50" text-anchor="end" font-weight="normal" fill="#000" stroke="#000" stroke-width="0.30">0</text>
<text transform="translate(660.80,586.50)" font-size="27.50" text-anchor="start" font-weight="normal" fill="#000" stroke="#000" stroke-width="0.30">1.44</text>
<text transform="translate(660.80,642.00)" font-size="27.50" text-anchor="start" font-weight="normal" fill="#000" stroke="#000" stroke-width="0.30">1.42</text>
<text transform="translate(660.80,697.50)" font-size="27.50" text-anchor="start" font-weight="normal" fill="#000" stroke="#000" stroke-width="0.30">1.4</text>
<text transform="translate(660.80,753.00)" font-size="27.50" text-anchor="start" font-weight="normal" fill="#000" stroke="#000" stroke-width="0.30">1.38</text>
<text transform="translate(660.80,808.50)" font-size="27.50" text-anchor="start" font-weight="normal" fill="#000" stroke="#000" stroke-width="0.30">1.36</text>
<text transform="translate(660.80,864.00)" font-size="27.50" text-anchor="start" font-weight="normal" fill="#000" stroke="#000" stroke-width="0.30">1.34</text>
<text transform="translate(660.80,919.50)" font-size="27.50" text-anchor="start" font-weight="normal" fill="#000" stroke="#000" stroke-width="0.30">1.32</text>
<text transform="translate(660.80,975.00)" font-size="27.50" text-anchor="start" font-weight="normal" fill="#000" stroke="#000" stroke-width="0.30">1.3</text>
<text transform="translate(190.03,996.30)" font-size="27.50" text-anchor="middle" font-weight="normal" fill="#000" stroke="#000" stroke-width="0.30">80</text>
<text transform="translate(283.88,996.30)" font-size="27.50" text-anchor="middle" font-weight="normal" fill="#000" stroke="#000" stroke-width="0.30">100</text>
<text transform="translate(377.74,996.30)" font-size="27.50" text-anchor="middle" font-weight="normal" fill="#000" stroke="#000" stroke-width="0.30">120</text>
<text transform="translate(471.59,996.30)" font-size="27.50" text-anchor="middle" font-weight="normal" fill="#000" stroke="#000" stroke-width="0.30">140</text>
<text transform="translate(565.45,996.30)" font-size="27.50" text-anchor="middle" font-weight="normal" fill="#000" stroke="#000" stroke-width="0.30">160</text>
<text transform="translate(659.30,996.30)" font-size="27.50" text-anchor="middle" font-weight="normal" fill="#000" stroke="#000" stroke-width="0.30">180</text>
<text transform="translate(354.30,1033.70)" font-size="33.00" text-anchor="start" font-weight="normal" fill="#000" stroke="#000" stroke-width="0.30">Time (h)</text>
<text transform="translate(27.5,900.2) rotate(-90) scale(1,1.06)" font-size="32.9" stroke="#000" stroke-width="0.3">Cyclin E,A/Cdk2</text>
<text transform="translate(60.2,908.3) rotate(-90) scale(1,1.06)" font-size="32.1" stroke="#000" stroke-width="0.3">and cyclin B/Cdk1</text>
<text transform="translate(741,657.3) rotate(90) scale(1,1.06)" font-size="32.9" stroke="#000" stroke-width="0.3">Cyclin D/Cdk4-6</text>
<text transform="translate(197.70,647.60)" font-size="25.00" text-anchor="start" font-weight="normal" fill="#000" stroke="#000" stroke-width="0.30">E/</text>
<text transform="translate(180.25,671.85)" font-size="25.00" text-anchor="start" font-weight="normal" fill="#000" stroke="#000" stroke-width="0.30">Cdk2</text>
<text transform="translate(385.50,635.00)" font-size="27.60" text-anchor="start" font-weight="normal" fill="#000" stroke="#000" stroke-width="0.30">Increase in pRB</text>
<text transform="translate(243.60,957.80)" font-size="24.50" text-anchor="start" font-weight="normal" fill="#000" stroke="#000" stroke-width="0.30">A/Cdk2</text>
<text transform="translate(475.20,823.60)" font-size="25.20" text-anchor="start" font-weight="normal" fill="#000" stroke="#000" stroke-width="0.30">D/Cdk4-6</text>
<text transform="translate(452.30,954.80)" font-size="24.60" text-anchor="start" font-weight="normal" fill="#000" stroke="#000" stroke-width="0.30">B/Cdk1</text>
</svg>
</body></html>
